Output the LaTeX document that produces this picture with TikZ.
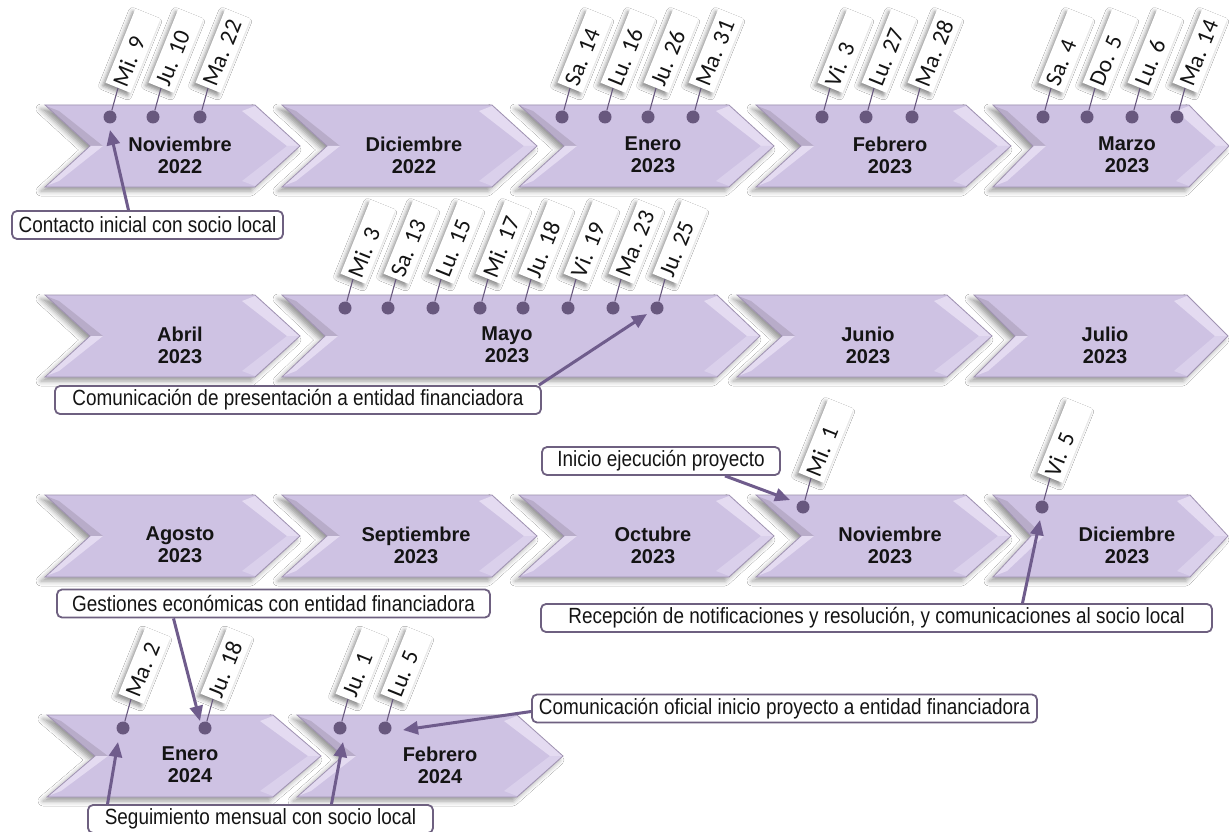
\documentclass[tikz,border=0pt]{standalone}
\usepackage{fontspec}
\usetikzlibrary{arrows.meta,shadows.blur}
\newfontfamily\monthfont{Liberation Sans}
\newfontfamily\datefont{Carlito}
\newfontfamily\callfont[FakeStretch=0.86]{Liberation Sans}
\definecolor{chbody}{RGB}{206,194,227}
\definecolor{chlight}{RGB}{228,219,241}
\definecolor{chmid}{RGB}{218,208,235}
\definecolor{chdark}{RGB}{184,172,201}
\definecolor{chrim}{RGB}{160,147,178}
\definecolor{dotc}{RGB}{104,88,126}
\definecolor{arrowc}{RGB}{111,92,140}
\definecolor{cobord}{RGB}{110,96,128}
\definecolor{ink}{RGB}{20,20,20}
\frenchspacing
\tikzset{
  monthtext/.style={align=center, text=ink, font=\monthfont\bfseries\fontsize{20}{22}\selectfont, inner sep=0pt},
  dotn/.style={circle, fill=dotc, minimum size=13pt, inner sep=0pt},
  datelab/.style={rotate=68, anchor=west, fill=white, text width=74pt, align=left,
    minimum height=27pt, inner xsep=3pt, inner ysep=0pt, text=ink,
    font=\datefont\fontsize{23.5}{23.5}\selectfont\frenchspacing,
    blur shadow={shadow xshift=-3pt, shadow yshift=-3pt, shadow blur radius=4pt, shadow opacity=45}},
  datelabs/.style={datelab, text width=66pt},
  tick/.style={draw=dotc, line width=1.1pt},
  callout/.style={draw=cobord, line width=1.8pt, rounded corners=5pt, fill=white, text=ink,
    font=\callfont\fontsize{22}{22}\selectfont, minimum height=28pt, inner xsep=4pt, inner ysep=2pt},
  arr/.style={draw=arrowc, line width=3pt, -{Triangle[length=15pt,width=13pt]}},
  chshadow/.style={blur shadow={shadow xshift=-4pt, shadow yshift=-4pt, shadow blur radius=5pt, shadow opacity=40}}
}
% #1 name, #2 x0, #3 top, #4 w, #5 d, #6 text x, #7 text
\newcommand\chev[7]{%
  \path[chshadow, fill=chbody]
   (#2,#3) -- ({#2+#4},#3) -- ({#2+#4+#5},{#3+41}) -- ({#2+#4},{#3+82}) -- (#2,{#3+82}) -- ({#2+#5},{#3+41}) -- cycle;
  \fill[chlight] ({#2+#4},{#3+1}) -- ({#2+#4+#5},{#3+41}) -- ({#2+#4+#5-13},{#3+41}) -- ({#2+#4-13},{#3+6}) -- cycle;
  \fill[chmid] ({#2+#4+#5},{#3+41}) -- ({#2+#4},{#3+81}) -- ({#2+#4-13},{#3+76}) -- ({#2+#4+#5-13},{#3+41}) -- cycle;
  \fill[chdark] ({#2+1},{#3+1}) -- ({#2+#5},{#3+41}) -- ({#2+#5+13},{#3+41}) -- ({#2+14},{#3+6}) -- cycle;
  \fill[chlight] ({#2+#5},{#3+41}) -- ({#2+1},{#3+81}) -- ({#2+14},{#3+76}) -- ({#2+#5+13},{#3+41}) -- cycle;
  \draw[chrim, line width=0.8pt]
   (#2,#3) -- ({#2+#4},#3) -- ({#2+#4+#5},{#3+41}) -- ({#2+#4},{#3+82}) -- (#2,{#3+82}) -- ({#2+#5},{#3+41}) -- cycle;
  \node[monthtext] (#1) at (#6,{#3+50}) {#7};
}
% #1 name, #2 x, #3 y, #4 text
\newcommand\dlab[4]{%
  \node[dotn] (d#1) at (#2,#3) {};
  \node[datelab] (l#1) at ({#2+8},{#3-29}) {#4};
  \draw[tick] (d#1) -- (l#1.west);
}
\newcommand\dlabs[4]{%
  \node[dotn] (d#1) at (#2,#3) {};
  \node[datelabs] (l#1) at ({#2+8},{#3-29}) {#4};
  \draw[tick] (d#1) -- (l#1.west);
}
\begin{document}
\begin{tikzpicture}[x=1pt,y=-1pt]
\fill[white] (0,0) rectangle (1229,832);
\useasboundingbox (0,0) rectangle (1229,832);
% Row 1
\chev{m1}{45}{105}{210}{45}{180}{Noviembre\\2022}
\chev{m2}{282}{105}{210}{45}{414}{Diciembre\\2022}
\chev{m3}{519}{105}{210}{45}{653}{Enero\\2023}
\chev{m4}{756}{105}{210}{45}{890}{Febrero\\2023}
\chev{m5}{993}{105}{196}{40}{1127}{Marzo\\2023}
% Row 2
\chev{m6}{45}{295}{210}{45}{180}{Abril\\2023}
\chev{m7}{282}{295}{435}{43}{507}{Mayo\\2023}
\chev{m8}{737}{295}{210}{45}{868}{Junio\\2023}
\chev{m9}{974}{295}{213}{41}{1105}{Julio\\2023}
% Row 3
\chev{m10}{45}{495}{210}{45}{180}{Agosto\\2023}
\chev{m11}{282}{495}{210}{45}{416}{Septiembre\\2023}
\chev{m12}{519}{495}{210}{45}{653}{Octubre\\2023}
\chev{m13}{756}{495}{210}{45}{890}{Noviembre\\2023}
\chev{m14}{993}{495}{197}{38}{1127}{Diciembre\\2023}
% Row 4
\chev{m15}{47}{715}{226}{48}{190}{Enero\\2024}
\chev{m16}{297}{715}{220}{46}{440}{Febrero\\2024}
% date labels row 1
\dlab{a1}{110}{117}{Mi. 9}
\dlab{a2}{153}{117}{Ju. 10}
\dlab{a3}{200}{117}{Ma. 22}
\dlab{a4}{562}{117}{Sa. 14}
\dlab{a5}{605}{117}{Lu. 16}
\dlab{a6}{648}{117}{Ju. 26}
\dlab{a7}{693}{117}{Ma. 31}
\dlab{a8}{822}{117}{Vi. 3}
\dlab{a9}{866}{117}{Lu. 27}
\dlab{a10}{912}{117}{Ma. 28}
\dlab{a11}{1043}{117}{Sa. 4}
\dlab{a12}{1087}{117}{Do. 5}
\dlab{a13}{1132}{117}{Lu. 6}
\dlab{a14}{1177}{117}{Ma. 14}
% row 2
\dlab{b1}{345}{308}{Mi. 3}
\dlab{b2}{388}{308}{Sa. 13}
\dlab{b3}{433}{308}{Lu. 15}
\dlab{b4}{480}{308}{Mi. 17}
\dlab{b5}{523}{308}{Ju. 18}
\dlab{b6}{568}{308}{Vi. 19}
\dlab{b7}{613}{308}{Ma. 23}
\dlab{b8}{657}{308}{Ju. 25}
% row 3
\dlab{c1}{803}{507}{Mi. 1}
\dlab{c2}{1042}{507}{Vi. 5}
% row 4
\dlabs{e1}{123}{728}{Ma. 2}
\dlabs{e2}{205}{728}{Ju. 18}
\dlabs{e3}{340}{728}{Ju. 1}
\dlabs{e4}{385}{728}{Lu. 5}
% callouts
\node[callout, minimum width=271pt] (k1) at (147.5,225) {Contacto inicial con socio local};
\node[callout, minimum width=486pt] (k2) at (298,400) {Comunicación de presentación a entidad financiadora};
\node[callout, minimum width=238pt] (k3) at (661,461) {Inicio ejecución proyecto};
\node[callout, minimum width=671pt] (k4) at (876.5,618) {Recepción de notificaciones y resolución, y comunicaciones al socio local};
\node[callout, minimum width=433pt] (k5) at (273.5,603.5) {Gestiones económicas con entidad financiadora};
\node[callout, minimum width=345pt] (k6) at (260.5,819) {Seguimiento mensual con socio local};
\node[callout, minimum width=505pt] (k7) at (784.5,708.5) {Comunicación oficial inicio proyecto a entidad financiadora};
% arrow tips
\coordinate (t1) at (110,130);
\coordinate (t2) at (647,314);
\coordinate (t3) at (790,500);
\coordinate (t4) at (1040,520);
\coordinate (t5) at (200,721);
\coordinate (t6) at (118,742);
\coordinate (t7) at (343,742);
\coordinate (t8) at (403,730);
\draw[arr] ([xshift=-19pt]k1.north) -- (t1);
\draw[arr] ([xshift=-3pt]k2.north east) -- (t2);
\draw[arr] ([xshift=64pt]k3.south) -- (t3);
\draw[arr] ([xshift=146pt]k4.north) -- (t4);
\draw[arr] ([xshift=-100pt]k5.south) -- (t5);
\draw[arr] ([xshift=-153pt]k6.north) -- (t6);
\draw[arr] ([xshift=71pt]k6.north) -- (t7);
\draw[arr] ([yshift=-3pt]k7.west) -- (t8);
\end{tikzpicture}
\end{document}
